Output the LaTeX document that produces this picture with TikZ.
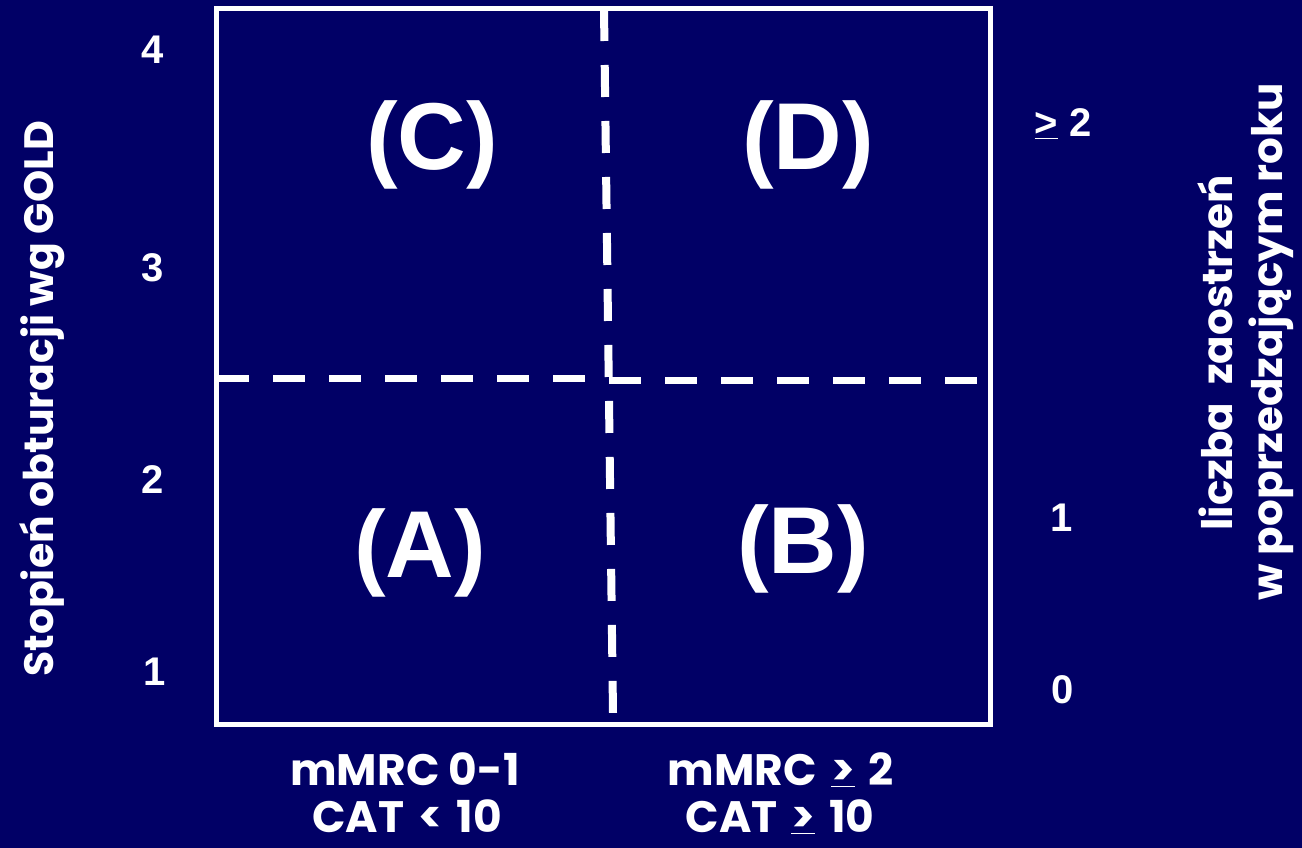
\documentclass[tikz,border=0pt]{standalone}
\usepackage{fontspec}
\setmainfont{Liberation Sans}
\newfontfamily\comic{Poppins}
\definecolor{navy}{RGB}{1,0,102}
\tikzset{
  num/.style={text=white, font=\fontsize{40}{44}\selectfont\bfseries, inner sep=0pt},
  quad/.style={text=white, font=\fontsize{95}{100}\selectfont\bfseries, inner sep=0pt},
  lab/.style={text=white, font=\comic\fontsize{42}{50}\selectfont\bfseries, inner sep=0pt, anchor=base},
  blab/.style={text=white, font=\comic\fontsize{44}{50}\selectfont\bfseries, inner sep=0pt, anchor=base, text depth=0pt},
  dashline/.style={white, line width=7.5pt, dash pattern=on 32pt off 24pt}
}
\begin{document}
\begin{tikzpicture}[x=1pt,y=-1pt]
\useasboundingbox (0,0) rectangle (1302,848);
\fill[navy] (0,0) rectangle (1302,848);
% frame
\draw[white, line width=5pt] (216,8.5) rectangle (990,724.5);
% dashed dividers
\coordinate (vt) at (604,9);
\coordinate (vb) at (613,713);
\coordinate (hl1) at (217,378.5);
\coordinate (hl2) at (586,378.5);
\coordinate (hr1) at (609,380.5);
\coordinate (hr2) at (978,380.5);
\draw[dashline, line width=8pt] (vt) -- (vb);
\draw[dashline] (hl1) -- (hl2);
\draw[dashline] (hr1) -- (hr2);
% quadrant labels
\node[quad] (C) at (432,145) {(C)};
\node[quad] (D) at (808,145) {(D)};
\node[quad] (A) at (420,553) {(A)};
\node[quad] (B) at (803,549) {(B)};
% left scale
\node[num] (l4) at (153,50) {4};
\node[num] (l3) at (153,268) {3};
\node[num] (l2) at (153,480) {2};
\node[num] (l1) at (155,672) {1};
% right scale
\node[num] (r2) at (1063,124) {\underline{>}\ 2};
\node[num] (r1) at (1062,518) {1};
\node[num] (r0) at (1063,690) {0};
% axis titles
\node[lab, font=\comic\fontsize{41}{50}\selectfont\bfseries, rotate=90] (yl) at (53,399) {Stopień obturacji wg GOLD};
\node[lab, rotate=90] (yr1) at (1232,353) {liczba\ \ zaostrzeń};
\node[lab, rotate=90] (yr2) at (1282,342) {w poprzedzającym roku};
\node[blab] (bl1) at (405,785) {mMRC 0-1};
\node[blab] (bl2) at (407,832) {CAT\hspace{14pt}<\hspace{14pt}10};
\node[blab] (br1) at (781,785) {mMRC\hspace{14pt}\underline{>}\hspace{14pt}2};
\node[blab] (br2) at (780,832) {CAT\hspace{14pt}\underline{>}\hspace{14pt}10};
\end{tikzpicture}
\end{document}
